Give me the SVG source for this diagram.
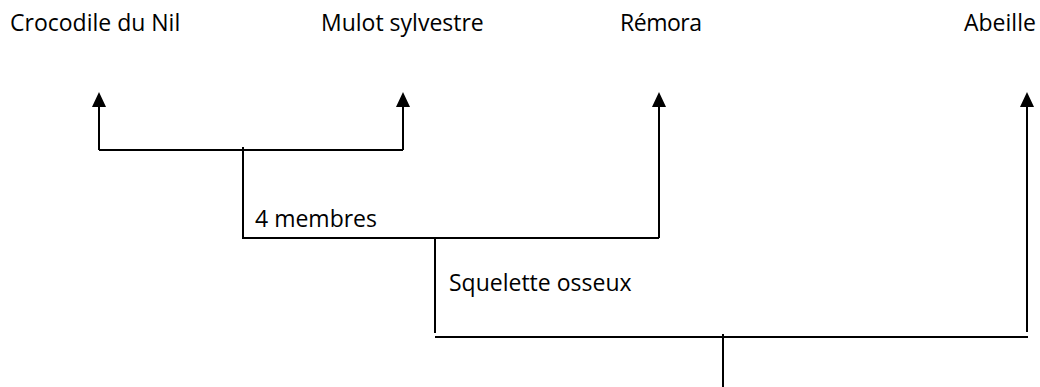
<svg xmlns="http://www.w3.org/2000/svg" width="1040" height="387" viewBox="0 0 1040 387">
<style>
.lbl{font-family:"Open Sans","Noto Sans","Liberation Sans",sans-serif;font-size:23px;fill:#000}
.ln{stroke:#000;stroke-width:2;fill:none}
</style>
<rect width="1040" height="387" fill="#fff"/>
<g id="n-crocodile"><text class="lbl" x="10" y="31">Crocodile du Nil</text></g>
<g id="n-mulot"><text class="lbl" x="321" y="31">Mulot sylvestre</text></g>
<g id="n-remora"><text class="lbl" x="620" y="31" textLength="82">Rémora</text></g>
<g id="n-abeille"><text class="lbl" x="964" y="31">Abeille</text></g>
<g id="n-4membres"><text class="lbl" x="255" y="227">4 membres</text></g>
<g id="n-squelette"><text class="lbl" x="449" y="291">Squelette osseux</text></g>
<g id="connectors">
<path class="ln" d="M99,150 H403"/>
<path class="ln" d="M99,150 V106"/>
<path class="ln" d="M403,150 V106"/>
<path d="M92,107 L99,92 L106,107 Z" fill="#000"/>
<path d="M396,107 L403,92 L410,107 Z" fill="#000"/>
<path class="ln" d="M243,147 V238"/>
<path class="ln" d="M242,238 H659"/>
<path class="ln" d="M659,238 V106"/>
<path d="M652,107 L659,92 L666,107 Z" fill="#000"/>
<path class="ln" d="M435,238 V333"/>
<path class="ln" d="M435,337 H1028"/>
<path class="ln" d="M1027,332 V106"/>
<path d="M1020,107 L1027,92 L1034,107 Z" fill="#000"/>
<path class="ln" d="M723,334 V387"/>
</g>
</svg>
